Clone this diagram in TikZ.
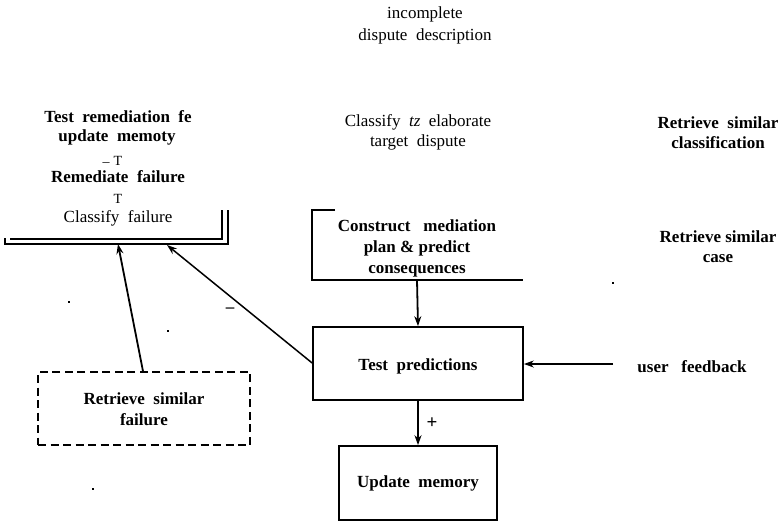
\documentclass[tikz,border=0pt]{standalone}
\usepackage{fontspec}
\setmainfont{Liberation Serif}
\usetikzlibrary{arrows.meta}
\begin{document}
\begin{tikzpicture}[x=1pt,y=-1pt,
  txt/.style={inner sep=0pt,align=center,font=\fontsize{17}{20}\selectfont},
  btxt/.style={inner sep=0pt,align=center,font=\fontsize{17}{20}\selectfont\bfseries},
  mtxt/.style={inner sep=0pt,font=\fontsize{14}{14}\selectfont},
  boxline/.style={line width=1.7pt},
  dashbox/.style={line width=1.6pt,dash pattern=on 8pt off 4.5pt},
  arr/.style={line width=1.8pt,-{Stealth[length=10pt,width=7pt]}},
  speck/.style={fill=black,inner sep=0pt,minimum size=2pt}]
\useasboundingbox (0,0) rectangle (778,522);

% top texts
\node[txt] (inc1) at (425,14) {incomplete};
\node[txt] (inc2) at (425,36) {dispute\ \ description};
\node[txt] (cls1) at (418,122) {Classify\ \ \textit{tz}\ \ elaborate};
\node[txt] (cls2) at (418,142) {target\ \ dispute};

% left stack
\node[btxt] (trm1) at (118,117) {Test\ \ remediation\ \ fe};
\node[btxt] (trm2) at (117,137) {update\ \ memoty};
\node[mtxt] (t1) at (118,161) {T};
\node[mtxt] (u1) at (106,162) {\_};
\node[btxt] (rem) at (118,177) {Remediate\ \ failure};
\node[mtxt] (t2) at (118,199) {T};
\node[txt] (clf) at (118,218) {Classify\ \ failure};

% left box (double line, open top)
\draw[boxline] (5,238) -- (5,244) -- (228,244) -- (228,210);
\draw[boxline] (10,239) -- (222,239) -- (222,210);
\coordinate (lbA) at (118,244);
\coordinate (lbB) at (167,245);

% construct box
\node[btxt] (con) at (417,248) {Construct\ \ \ mediation\\[1pt]plan\ \&\ predict\\[1pt]consequences};
\draw[boxline] (335,210) -- (312,210) -- (312,280) -- (523,280);
\coordinate (conB) at (417,280);

% test predictions
\node[draw,boxline,minimum width=210pt,minimum height=73pt,inner sep=0pt] (test) at (418,363.5) {};
\node[btxt] (testt) at (418,366) {Test\ \ predictions};

% update memory
\node[draw,boxline,minimum width=158pt,minimum height=74pt,inner sep=0pt] (upd) at (418,483) {};
\node[btxt] (updt) at (418,483) {Update\ \ memory};

% retrieve similar failure (dashed)
\node[draw,dashbox,minimum width=212pt,minimum height=73pt,inner sep=0pt] (rsf) at (144,408.5) {};
\node[btxt] (rsft) at (144,409) {Retrieve\ \ similar\\[1pt]failure};

% right texts
\node[btxt] (rsc) at (718,133) {Retrieve\ \ similar\\classification};
\node[btxt] (rsca) at (718,247) {Retrieve\ similar\\case};
\node[btxt] (ufb) at (692,367) {user\ \ \ feedback};
\coordinate (ufS) at (613,364);

% arrows
\draw[arr] (conB) -- (test.north);
\draw[arr] (test.south) -- (upd.north);
\draw[arr,line width=1.5pt] (ufS) -- (test.east |- ufS);
\draw[arr] (rsf.north -| 143,0) -- (lbA);
\draw[arr,line width=1.5pt] (test.west |- 0,363) -- (lbB);

% labels
\node[btxt,font=\fontsize{19}{20}\selectfont\bfseries] (plus) at (432,423) {+};
\node[btxt] (minus) at (230,310) {--};

% specks
\node[speck] (s1) at (613,283) {};
\node[speck,minimum size=1.5pt] (s2) at (69,302) {};
\node[speck,minimum size=1.5pt] (s3) at (168,331) {};
\node[speck,minimum size=1.5pt] (s4) at (93,489) {};
\end{tikzpicture}
\end{document}
